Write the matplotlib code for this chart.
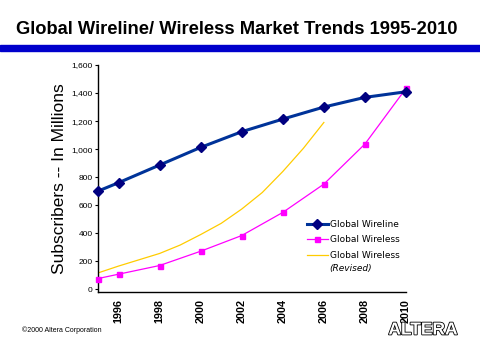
import matplotlib
matplotlib.use("Agg")
import matplotlib.pyplot as plt
import matplotlib.patheffects as pe
from matplotlib.lines import Line2D

# Data
wire_years = [1995, 1996, 1998, 2000, 2002, 2004, 2006, 2008, 2010]
wireline = [700, 760, 886, 1012, 1124, 1214, 1300, 1369, 1409]
wireless = [76, 107, 169, 271, 383, 548, 750, 1036, 1433]
rev_years = [1995, 1996, 1997, 1998, 1999, 2000, 2001, 2002, 2003, 2004, 2005, 2006]
wireless_revised = [116, 165, 210, 255, 315, 390, 470, 572, 690, 840, 1005, 1190]
xticks = [1996, 1998, 2000, 2002, 2004, 2006, 2008, 2010]
yticks = [0, 200, 400, 600, 800, 1000, 1200, 1400, 1600]
ytick_labels = ["0", "200", "400", "600", "800", "1,000", "1,200", "1,400", "1,600"]

W, H = 480, 360
fig = plt.figure(figsize=(4.8, 3.6), dpi=100)
fig.patch.set_facecolor("white")

# title and bar
fig.text(237 / W, 1 - 30 / H, "Global Wireline/ Wireless Market Trends 1995-2010",
         ha="center", va="center", fontsize=13.2, fontweight="bold",
         family="Liberation Sans")
fig.patches.append(plt.Rectangle((0, 1 - 51 / H), 1, 6 / H, transform=fig.transFigure,
                                 color="#0000CC", zorder=1))

ax = fig.add_axes([98 / W, 1 - 292 / H, (406 - 98) / W, (292 - 65) / H])
ax.set_xlim(1995, 2010)
ax.set_ylim(-20, 1600)
for s in ["top", "right"]:
    ax.spines[s].set_visible(False)
ax.spines["left"].set_linewidth(1)
ax.spines["bottom"].set_linewidth(1)

ax.plot(rev_years, wireless_revised, color="#FFCC00", lw=0.9, zorder=2)
ax.plot(wire_years, wireless, color="#FF00FF", lw=0.9, marker="s", ms=3.6,
        mfc="#FF00FF", mec="#FF00FF", clip_on=False, zorder=3)
ax.plot(wire_years, wireline, color="#003399", lw=2.2, marker="D", ms=5,
        mfc="#000080", mec="#000080", clip_on=False, zorder=4)

ax.set_xticks(xticks)
ax.set_xticklabels([str(x) for x in xticks], rotation=90, fontsize=7.8,
                   fontweight="bold", family="Liberation Sans")
ax.set_yticks(yticks)
ax.set_yticklabels(ytick_labels, fontsize=6, family="Liberation Sans")
ax.tick_params(axis="both", length=2, width=0.8, pad=2)
ax.tick_params(axis="x", length=0, pad=5)

ax.set_ylabel("Subscribers -- In Millions", fontsize=12.5, family="Liberation Sans",
              labelpad=3)

handles = [
    Line2D([], [], color="#003399", lw=2.2, marker="D", ms=5, mfc="#000080", mec="#000080"),
    Line2D([], [], color="#FF00FF", lw=0.9, marker="s", ms=3.6, mfc="#FF00FF", mec="#FF00FF"),
    Line2D([], [], color="#FFCC00", lw=0.9),
]
leg = ax.legend(handles, ["Global Wireline", "Global Wireless", "Global Wireless"],
                loc="upper left", bbox_to_anchor=((307 - 98) / 308, (292 - 220) / 227),
                frameon=False, fontsize=6.5, handlelength=2.3, handletextpad=0.2,
                labelspacing=0.72, borderaxespad=0, borderpad=0)
fig.text(329 / W, 1 - 268 / H, "(Revised)", fontsize=6.5, style="italic",
         ha="left", va="center")

fig.text(22 / W, 1 - 330 / H, "\u00a92000 Altera Corporation", fontsize=5,
         ha="left", va="center", family="Liberation Sans")
fig.text(423 / W, 1 - 330 / H, "ALTERA", fontsize=12.5, fontweight="bold",
         ha="center", va="center", color="white", family="Liberation Sans",
         path_effects=[pe.withStroke(linewidth=1.2, foreground="black")])

fig.savefig("out.png", dpi=100, facecolor="white")
